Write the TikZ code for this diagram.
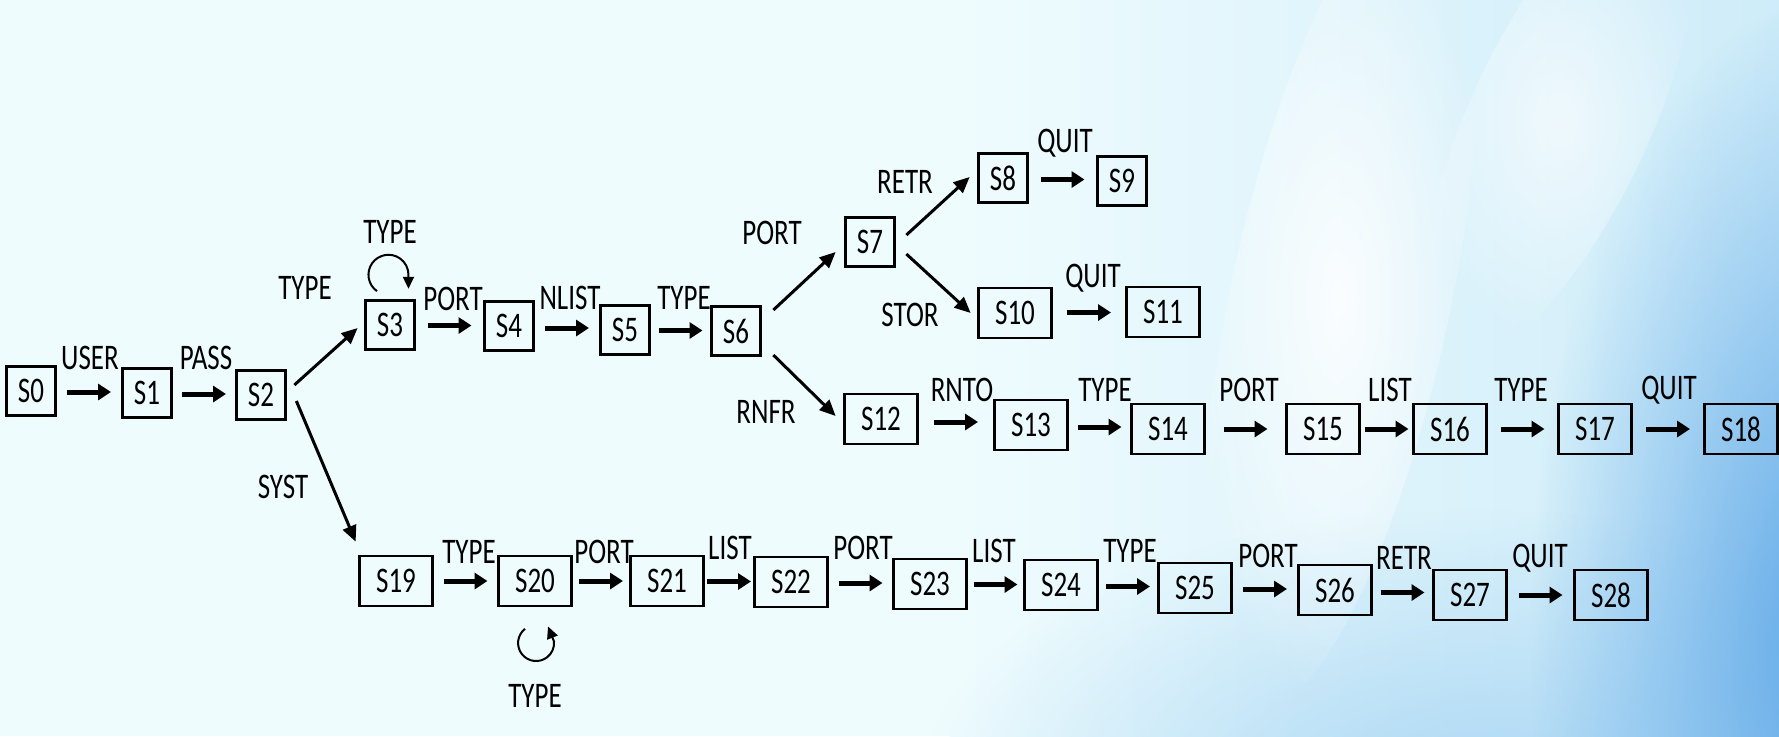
\documentclass[tikz,border=0pt]{standalone}
\usepackage{fontspec}
\setmainfont[FakeStretch=0.75]{Carlito}
\usetikzlibrary{arrows.meta,calc,fadings}
\definecolor{bgA}{RGB}{239,252,254}
\definecolor{bgB}{RGB}{206,236,249}
\definecolor{bgC}{RGB}{95,168,232}
\definecolor{bgD}{RGB}{165,212,243}
\tikzfading[name=softc, inner color=transparent!0, outer color=transparent!100]
\tikzset{
  sbox/.style={draw=black, line width=1.35pt, minimum width=24.5pt, minimum height=24.5pt, inner sep=0pt},
  wbox/.style={sbox, minimum width=36.5pt, minimum height=25pt},
  lbl/.style={inner sep=0pt},
  harrow/.style={line width=2.5pt, -{Triangle[length=6.5pt,width=8pt]}},
  darrow/.style={line width=1.5pt, -{Triangle[length=8pt,width=7pt]}},
  larrow/.style={line width=1pt, -{Triangle[length=6pt,width=5.5pt]}}
}
\newcommand\harr[2]{\draw[harrow] ($(#1.east)!.5!(#2.west)+(-22,0)$) -- ++(44,0);}
\begin{document}
\begin{tikzpicture}[x=0.5pt,y=0.5pt,font=\fontsize{18pt}{20pt}\selectfont]
% background
\fill[bgA] (0,0) rectangle (1779,-736);
\shade[left color=bgA, right color=bgB] (950,0) rectangle (1779,-736);
\begin{scope}
\clip (0,0) rectangle (1779,-736);
\fill[bgD, path fading=softc, opacity=0.85] (1480,-790) ellipse [x radius=560, y radius=280];
\fill[bgC, path fading=softc] (1830,-640) ellipse [x radius=300, y radius=640];
\fill[white, path fading=softc, opacity=0.85, rotate around={-12:(1340,-300)}] (1340,-300) ellipse [x radius=110, y radius=420];
\fill[white, path fading=softc, opacity=0.6, rotate around={-25:(1560,-120)}] (1560,-120) ellipse [x radius=90, y radius=260];
\end{scope}
\useasboundingbox (0,0) rectangle (1779,-736);
% states
\node[sbox] (S0) at (31,-391) {S0};
\node[sbox] (S1) at (147,-393) {S1};
\node[sbox] (S2) at (261,-395) {S2};
\node[sbox] (S3) at (390,-325) {S3};
\node[sbox] (S4) at (509,-326) {S4};
\node[sbox] (S5) at (625,-330) {S5};
\node[sbox] (S6) at (736,-331) {S6};
\node[sbox] (S7) at (870,-242) {S7};
\node[sbox] (S8) at (1003,-178) {S8};
\node[sbox] (S9) at (1122,-181) {S9};
\node[wbox] (S10) at (1015,-313) {S10};
\node[wbox] (S11) at (1163,-312) {S11};
\node[wbox] (S12) at (881,-419) {S12};
\node[wbox] (S13) at (1031,-425) {S13};
\node[wbox] (S14) at (1168,-429) {S14};
\node[wbox] (S15) at (1323,-429) {S15};
\node[wbox] (S16) at (1450,-429) {S16};
\node[wbox] (S17) at (1595,-429) {S17};
\node[wbox] (S18) at (1741,-429) {S18};
\node[wbox] (S19) at (396,-581) {S19};
\node[wbox] (S20) at (535,-581) {S20};
\node[wbox] (S21) at (667,-581) {S21};
\node[wbox] (S22) at (791,-582) {S22};
\node[wbox] (S23) at (930,-584) {S23};
\node[wbox] (S24) at (1061,-585) {S24};
\node[wbox] (S25) at (1195,-588) {S25};
\node[wbox] (S26) at (1335,-590) {S26};
\node[wbox] (S27) at (1470,-595) {S27};
\node[wbox] (S28) at (1611,-595) {S28};
% labels
\node[lbl] (l01) at (90,-358) {USER};
\node[lbl] (l12) at (206,-358) {PASS};
\node[lbl] (l23) at (305,-288) {TYPE};
\node[lbl] (l33) at (390,-232) {TYPE};
\node[lbl] (l34) at (453,-299) {PORT};
\node[lbl] (l45) at (570,-298) {NLIST};
\node[lbl] (l56) at (684,-298) {TYPE};
\node[lbl] (l67) at (772,-233) {PORT};
\node[lbl] (l78) at (905,-182) {RETR};
\node[lbl] (l89) at (1065,-143) {QUIT};
\node[lbl] (l710) at (910,-315) {STOR};
\node[lbl] (l1011) at (1093,-278) {QUIT};
\node[lbl] (l612) at (766,-412) {RNFR};
\node[lbl] (l219) at (283,-487) {SYST};
\node[lbl] (l1213) at (962,-390) {RNTO};
\node[lbl] (l1314) at (1105,-390) {TYPE};
\node[lbl] (l1415) at (1249,-390) {PORT};
\node[lbl] (l1516) at (1390,-390) {LIST};
\node[lbl] (l1617) at (1521,-390) {TYPE};
\node[lbl] (l1718) at (1669,-390) {QUIT};
\node[lbl] (l1920) at (469,-552) {TYPE};
\node[lbl] (l2020) at (535,-696) {TYPE};
\node[lbl] (l2021) at (604,-552) {PORT};
\node[lbl] (l2122) at (730,-548) {LIST};
\node[lbl] (l2223) at (863,-548) {PORT};
\node[lbl] (l2324) at (994,-551) {LIST};
\node[lbl] (l2425) at (1130,-551) {TYPE};
\node[lbl] (l2526) at (1268,-556) {PORT};
\node[lbl] (l2627) at (1404,-558) {RETR};
\node[lbl] (l2728) at (1540,-558) {QUIT};
% horizontal transitions
\harr{S0}{S1}
\harr{S1}{S2}
\harr{S3}{S4}
\harr{S4}{S5}
\harr{S5}{S6}
\harr{S8}{S9}
\harr{S10}{S11}
\harr{S12}{S13}
\harr{S13}{S14}
\harr{S14}{S15}
\harr{S15}{S16}
\harr{S16}{S17}
\harr{S17}{S18}
\harr{S19}{S20}
\harr{S20}{S21}
\harr{S21}{S22}
\harr{S22}{S23}
\harr{S23}{S24}
\harr{S24}{S25}
\harr{S25}{S26}
\harr{S26}{S27}
\harr{S27}{S28}
% diagonal transitions
\draw[darrow] ($(S2.east)+(7.5,10)$) -- ($(S3.west)+(-6.5,-3)$);
\draw[darrow] ($(S2.east)+(9.5,-6)$) -- ($(S19.north west)+(-2.5,13)$);
\draw[darrow] ($(S6.east)+(11.5,21)$) -- ($(S7.west)+(-8.5,-10)$);
\draw[darrow] ($(S6.east)+(11.5,-24)$) -- ($(S12.west)+(-7.5,3)$);
\draw[darrow] ($(S7.east)+(10.5,7)$) -- ($(S8.west)+(-7.5,1)$);
\draw[darrow] ($(S7.east)+(10.5,-12)$) -- ($(S10.west)+(-6.5,0)$);
% self loops
\draw[larrow] ($(S3.north)+(-13,8)$) arc[start angle=235, end angle=0, radius=20] -- ++(0,-14);
\draw[larrow] ($(S20.south)+(-10,-21.5)$) arc[start angle=128, end angle=365, radius=18] -- ++(-6,15);
\end{tikzpicture}
\end{document}
